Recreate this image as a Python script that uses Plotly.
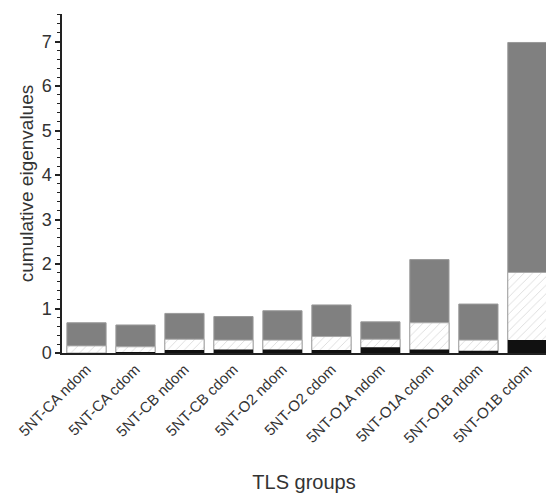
import plotly.graph_objects as go

categories = ["5NT-CA ndom", "5NT-CA cdom", "5NT-CB ndom", "5NT-CB cdom",
              "5NT-O2 ndom", "5NT-O2 cdom", "5NT-O1A ndom", "5NT-O1A cdom",
              "5NT-O1B ndom", "5NT-O1B cdom"]
# cumulative eigenvalue levels (stack tops)
total_level = [0.68, 0.63, 0.89, 0.82, 0.95, 1.08, 0.70, 2.10, 1.10, 6.98]
middle_level = [0.16, 0.14, 0.31, 0.29, 0.29, 0.37, 0.31, 0.68, 0.29, 1.81]
lowest_level = [0.0, 0.01, 0.07, 0.08, 0.08, 0.07, 0.13, 0.08, 0.05, 0.29]
y_ticks = [0, 1, 2, 3, 4, 5, 6, 7]

xpos = list(range(len(categories)))
font = "Liberation Sans, Arial, sans-serif"

fig = go.Figure()
fig.add_trace(go.Bar(x=xpos, y=total_level, width=0.8,
                     marker=dict(color="#808080", line=dict(color="#9a9a9a", width=1)),
                     showlegend=False))
fig.add_trace(go.Bar(x=xpos, y=middle_level, width=0.8,
                     marker=dict(color="white", line=dict(color="#a8a8a8", width=1),
                                 pattern=dict(shape="/", fgcolor="#b8b8b8", bgcolor="white",
                                              size=6, solidity=0.15)),
                     showlegend=False))
fig.add_trace(go.Bar(x=xpos, y=lowest_level, width=0.8,
                     marker=dict(color="#111111", line=dict(width=0)),
                     showlegend=False))

xr = [-0.5, 9.38]
yr = [0, 7.62]

fig.update_layout(
    width=546, height=500,
    margin=dict(l=62, r=0, t=14, b=147),
    paper_bgcolor="white", plot_bgcolor="white",
    barmode="overlay", bargap=0.2,
    font=dict(family=font, color="#333333"),
    xaxis=dict(
        range=xr, tickvals=xpos, ticktext=categories, tickangle=-45,
        ticks="", showgrid=False, zeroline=False, automargin=False,
        showline=True, linecolor="#222222", linewidth=1.5,
        tickfont=dict(size=15, color="#333333"),
        title=dict(text="TLS groups", font=dict(size=20, color="#333333"), standoff=30),
    ),
    xaxis2=dict(
        overlaying="x", anchor="y", side="bottom", range=xr, automargin=False,
        tickvals=[i + 0.5 for i in xpos[:-1]], ticktext=[""] * (len(xpos) - 1),
        ticks="outside", ticklen=4, tickwidth=1.5, tickcolor="#222222",
        showgrid=False, zeroline=False, showline=False, showticklabels=False,
    ),
    xaxis3=dict(
        overlaying="x", anchor="y", side="bottom", range=xr, automargin=False,
        tickvals=[i + 0.5 for i in xpos[:-1]], ticktext=[""] * (len(xpos) - 1),
        ticks="inside", ticklen=4, tickwidth=1.5, tickcolor="#222222",
        showgrid=False, zeroline=False, showline=False, showticklabels=False,
    ),
    yaxis=dict(
        range=yr, tickvals=y_ticks, ticks="outside", ticklen=5, tickwidth=1.5,
        tickcolor="#222222", showgrid=False, zeroline=False, automargin=False,
        showline=True, linecolor="#222222", linewidth=1.5,
        tickfont=dict(size=18, color="#333333"),
        minor=dict(dtick=0.2, tick0=0, ticks="outside", ticklen=3, tickwidth=1.2,
                   tickcolor="#222222", showgrid=False),
        title=dict(text="cumulative eigenvalues", font=dict(size=19, color="#333333"),
                   standoff=3),
    ),
    yaxis2=dict(
        overlaying="y", anchor="x", side="left", range=yr, tickvals=y_ticks,
        ticks="inside", ticklen=5, tickwidth=1.5, tickcolor="#222222", automargin=False,
        showgrid=False, zeroline=False, showline=False, showticklabels=False,
        minor=dict(dtick=0.2, tick0=0, ticks="inside", ticklen=3, tickwidth=1.2,
                   tickcolor="#222222", showgrid=False),
    ),
)

fig.write_html("out.html",
               config={"displayModeBar": False},
               post_script="document.body.style.margin='0';document.body.style.overflow='hidden';")
